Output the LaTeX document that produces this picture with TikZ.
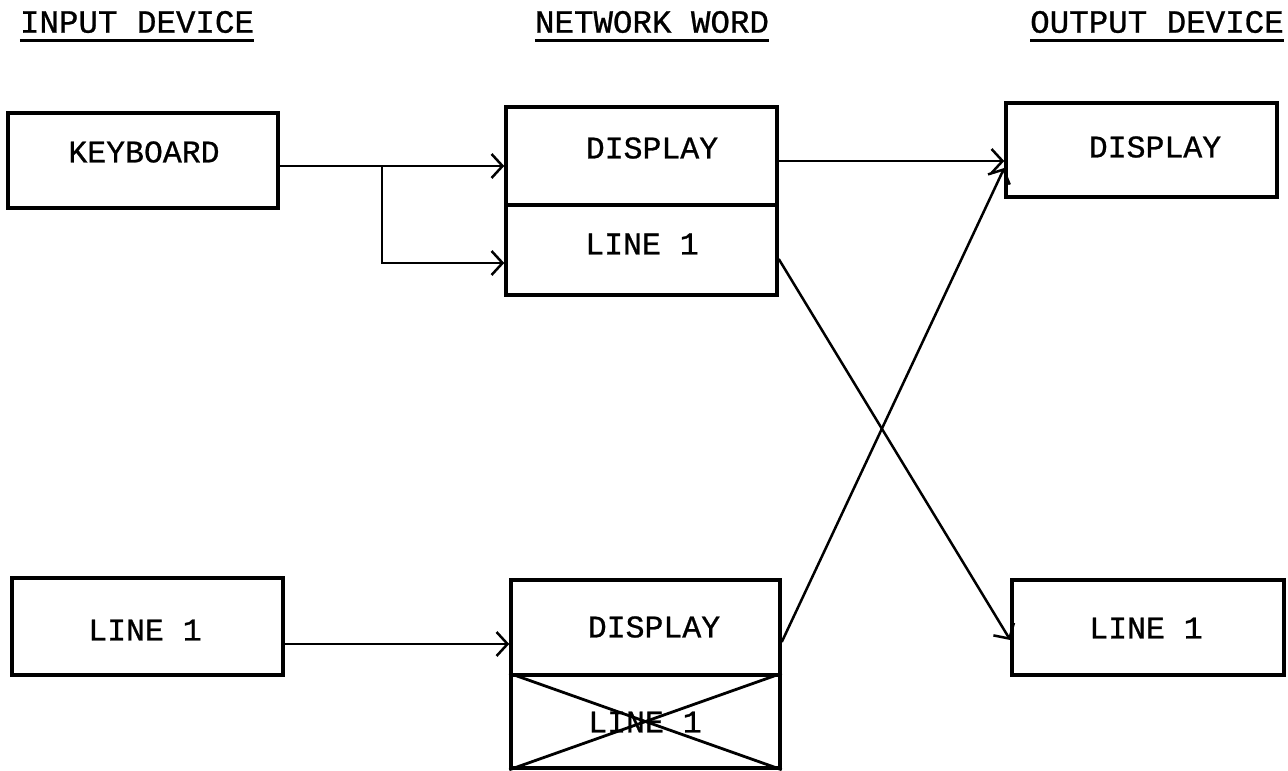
\documentclass[tikz,border=0pt]{standalone}
\usepackage{fontspec}
\newfontfamily\tw[FakeBold=0.8]{Liberation Mono}
\usetikzlibrary{arrows.meta,calc}
\tikzset{
  box/.style={draw,line width=3.5pt,inner sep=0pt,rectangle},
  lbl/.style={font=\tw\fontsize{31.5}{36}\selectfont,inner sep=0pt},
  hdr/.style={font=\tw\fontsize{32.5}{38}\selectfont,inner sep=0pt},
  uline/.style={line width=3pt},
  arr/.style={line width=2.5pt,-{Straight Barb[length=11pt,width=24pt,line width=2.5pt]}},
  cross/.style={line width=2.8pt}
}
\begin{document}
\begin{tikzpicture}[x=1pt,y=-1pt]
\useasboundingbox (0,0) rectangle (1288,771);
% headers
\node[hdr] (h1) at (137,22) {INPUT DEVICE};
\node[hdr] (h2) at (652,22) {NETWORK WORD};
\node[hdr] (h3) at (1157,22) {OUTPUT DEVICE};
\draw[uline] (h1.west |- 0,40) -- (h1.east |- 0,40);
\draw[uline] (h2.west |- 0,40) -- (h2.east |- 0,40);
\draw[uline] (h3.west |- 0,40) -- (h3.east |- 0,40);
% boxes
\node[box,minimum width=270pt,minimum height=95pt] (kb) at (143,160.5) {};
\node[box,minimum width=271pt,minimum height=98pt] (nd) at (641.5,156) {};
\node[box,minimum width=271pt,minimum height=90pt] (nl) at (641.5,250) {};
\node[box,minimum width=271pt,minimum height=94pt] (od) at (1141.5,150) {};
\node[box,minimum width=271pt,minimum height=97pt] (il) at (147.5,626.5) {};
\node[box,minimum width=269pt,minimum height=95pt] (bd) at (645.5,627.5) {};
\node[box,minimum width=269pt,minimum height=93pt] (bl) at (645.5,721.5) {};
\node[box,minimum width=272pt,minimum height=95pt] (ol) at (1148,627.5) {};
% texts
\node[lbl] (kbt) at (144,152) {KEYBOARD};
\node[lbl] (ndt) at (652,148) {DISPLAY};
\node[lbl] (nlt) at (642,244) {LINE 1};
\node[lbl] (odt) at (1155,147) {DISPLAY};
\node[lbl] (ilt) at (145,630) {LINE 1};
\node[lbl] (bdt) at (654,627) {DISPLAY};
\node[lbl] (blt) at (645,722) {LINE 1};
\node[lbl] (olt) at (1146,628) {LINE 1};
% cross over lower bottom section
\draw[cross] (bl.north west) -- (bl.south east);
\draw[cross] (bl.north east) -- (bl.south west);
% connectors
\coordinate (br) at (382,166);
\draw[arr] (kb.east |- br) -- (nd.west |- br);
\draw[arr] (br) |- (nl.west |- 0,263);
\draw[arr] (nd.east |- 0,161) -- (od.west |- 0,161);
\draw[arr] (nl.east |- 0,259) -- (ol.west |- 0,640);
\draw[arr] (il.east |- 0,644) -- (bd.west |- 0,644);
\draw[arr] (bd.east |- 0,642) -- (od.west |- 0,168);
\end{tikzpicture}
\end{document}
